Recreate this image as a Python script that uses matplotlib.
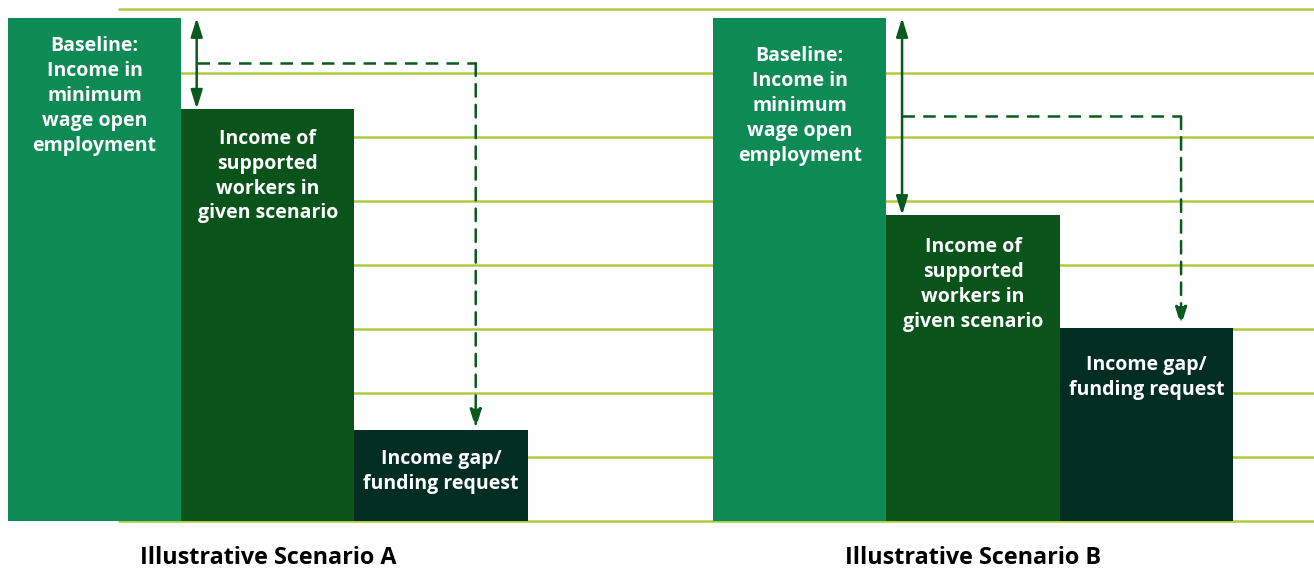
import matplotlib.pyplot as plt
from matplotlib.patches import FancyArrowPatch

# values (gridline spacing = 1 unit)
scenarios = ["Illustrative Scenario A", "Illustrative Scenario B"]
baseline = [7.86, 7.86]
supported = [6.44, 4.78]
gap = [1.42, 3.02]

bar_labels = ["Baseline:\nIncome in\nminimum\nwage open\nemployment",
              "Income of\nsupported\nworkers in\ngiven scenario",
              "Income gap/\nfunding request"]
bar_colors = ["#0E8A55", "#0A541B", "#022E22"]
grid_color = "#AECB3E"
arrow_color = "#0A5A1E"

plt.rcParams['font.family'] = ['Open Sans', 'DejaVu Sans']

fig = plt.figure(figsize=(13.14, 5.70), dpi=100)
ax = fig.add_axes([0, 0, 1, 1])
ax.set_xlim(-0.545, 7.037)
ax.set_ylim(-0.766, 8.14)
ax.axis('off')

# gridlines
ax.hlines(range(0, 9), 0.136, 7.037, color=grid_color, lw=1.8, zorder=0)

# how far below each bar top its label starts
label_drop = [[0.28, 0.31, 0.30], [0.44, 0.34, 0.42]]

group_start = [0, 4.07]
for g in range(len(scenarios)):
    x0 = group_start[g]
    vals = [baseline[g], supported[g], gap[g]]
    xs = [x0, x0 + 1, x0 + 2]
    ax.bar(xs, vals, width=1.0, color=bar_colors, zorder=2)
    for x, v, lab, d in zip(xs, vals, bar_labels, label_drop[g]):
        ax.text(x, v - d, lab, ha='center', va='top', color='white',
                fontsize=14, fontweight='bold', linespacing=1.33, zorder=3)

    # double-headed arrow between baseline and supported income
    ax_x = x0 + 0.59
    ax.add_patch(FancyArrowPatch((ax_x, baseline[g]), (ax_x, supported[g]),
                                 arrowstyle='<|-|>,head_length=0.8,head_width=0.25',
                                 mutation_scale=14, color=arrow_color, lw=1.8,
                                 shrinkA=0, shrinkB=0, zorder=4))
    # dashed path to the gap bar
    mid = (baseline[g] + supported[g]) / 2
    dx = x0 + 2.2
    ax.plot([ax_x, dx], [mid, mid], color=arrow_color, lw=1.8,
            dashes=(5, 3.3), zorder=4)
    ax.add_patch(FancyArrowPatch((dx, mid), (dx, gap[g] + 0.03),
                                 arrowstyle='-|>,head_length=0.8,head_width=0.25',
                                 mutation_scale=14, color=arrow_color, lw=1.8,
                                 linestyle=(0, (5, 3.3)),
                                 shrinkA=0, shrinkB=0, zorder=4))

    ax.text(x0 + 1, -0.58, scenarios[g], ha='center', va='center',
            fontsize=16.8, fontweight='bold', color='black')

fig.savefig("out.png", dpi=100)
